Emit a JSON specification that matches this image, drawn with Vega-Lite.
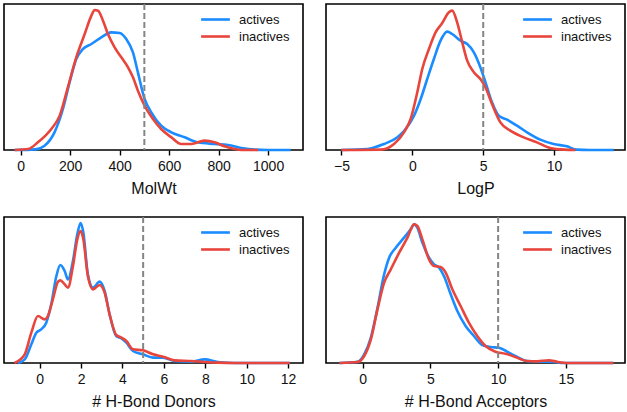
{
  "$schema": "https://vega.github.io/schema/vega-lite/v6.json",
  "padding": {"left": 3, "top": 2, "right": 1, "bottom": 0},
  "background": "white",
  "datasets": {
    "kde": [
      {"panel": "MolWt", "group": "actives", "value": -24, "density": 0},
      {"panel": "MolWt", "group": "actives", "value": 60, "density": 2},
      {"panel": "MolWt", "group": "actives", "value": 97, "density": 13},
      {"panel": "MolWt", "group": "actives", "value": 137, "density": 53},
      {"panel": "MolWt", "group": "actives", "value": 171, "density": 123},
      {"panel": "MolWt", "group": "actives", "value": 198, "density": 203},
      {"panel": "MolWt", "group": "actives", "value": 225, "density": 273},
      {"panel": "MolWt", "group": "actives", "value": 252, "density": 303},
      {"panel": "MolWt", "group": "actives", "value": 286, "density": 318},
      {"panel": "MolWt", "group": "actives", "value": 326, "density": 338},
      {"panel": "MolWt", "group": "actives", "value": 366, "density": 353},
      {"panel": "MolWt", "group": "actives", "value": 400, "density": 351},
      {"panel": "MolWt", "group": "actives", "value": 427, "density": 333},
      {"panel": "MolWt", "group": "actives", "value": 454, "density": 293},
      {"panel": "MolWt", "group": "actives", "value": 474, "density": 233},
      {"panel": "MolWt", "group": "actives", "value": 501, "density": 153},
      {"panel": "MolWt", "group": "actives", "value": 528, "density": 113},
      {"panel": "MolWt", "group": "actives", "value": 568, "density": 73},
      {"panel": "MolWt", "group": "actives", "value": 609, "density": 53},
      {"panel": "MolWt", "group": "actives", "value": 663, "density": 38},
      {"panel": "MolWt", "group": "actives", "value": 716, "density": 23},
      {"panel": "MolWt", "group": "actives", "value": 784, "density": 18},
      {"panel": "MolWt", "group": "actives", "value": 838, "density": 15},
      {"panel": "MolWt", "group": "actives", "value": 892, "density": 6},
      {"panel": "MolWt", "group": "actives", "value": 945, "density": 1},
      {"panel": "MolWt", "group": "actives", "value": 1000, "density": 0},
      {"panel": "MolWt", "group": "actives", "value": 1091, "density": 0},
      {"panel": "MolWt", "group": "inactives", "value": -24, "density": 0},
      {"panel": "MolWt", "group": "inactives", "value": 30, "density": 3},
      {"panel": "MolWt", "group": "inactives", "value": 70, "density": 23},
      {"panel": "MolWt", "group": "inactives", "value": 124, "density": 63},
      {"panel": "MolWt", "group": "inactives", "value": 158, "density": 103},
      {"panel": "MolWt", "group": "inactives", "value": 191, "density": 188},
      {"panel": "MolWt", "group": "inactives", "value": 225, "density": 278},
      {"panel": "MolWt", "group": "inactives", "value": 259, "density": 348},
      {"panel": "MolWt", "group": "inactives", "value": 286, "density": 403},
      {"panel": "MolWt", "group": "inactives", "value": 299, "density": 420},
      {"panel": "MolWt", "group": "inactives", "value": 313, "density": 418},
      {"panel": "MolWt", "group": "inactives", "value": 333, "density": 388},
      {"panel": "MolWt", "group": "inactives", "value": 353, "density": 348},
      {"panel": "MolWt", "group": "inactives", "value": 380, "density": 308},
      {"panel": "MolWt", "group": "inactives", "value": 407, "density": 278},
      {"panel": "MolWt", "group": "inactives", "value": 434, "density": 248},
      {"panel": "MolWt", "group": "inactives", "value": 454, "density": 218},
      {"panel": "MolWt", "group": "inactives", "value": 474, "density": 178},
      {"panel": "MolWt", "group": "inactives", "value": 501, "density": 133},
      {"panel": "MolWt", "group": "inactives", "value": 535, "density": 93},
      {"panel": "MolWt", "group": "inactives", "value": 568, "density": 63},
      {"panel": "MolWt", "group": "inactives", "value": 609, "density": 38},
      {"panel": "MolWt", "group": "inactives", "value": 649, "density": 18},
      {"panel": "MolWt", "group": "inactives", "value": 690, "density": 18},
      {"panel": "MolWt", "group": "inactives", "value": 743, "density": 28},
      {"panel": "MolWt", "group": "inactives", "value": 784, "density": 23},
      {"panel": "MolWt", "group": "inactives", "value": 824, "density": 11},
      {"panel": "MolWt", "group": "inactives", "value": 865, "density": 3},
      {"panel": "MolWt", "group": "inactives", "value": 892, "density": 0},
      {"panel": "MolWt", "group": "inactives", "value": 960, "density": 0},

      {"panel": "LogP", "group": "actives", "value": -5.0, "density": 0},
      {"panel": "LogP", "group": "actives", "value": -3.16, "density": 3},
      {"panel": "LogP", "group": "actives", "value": -2.0, "density": 18},
      {"panel": "LogP", "group": "actives", "value": -1.05, "density": 38},
      {"panel": "LogP", "group": "actives", "value": -0.47, "density": 63},
      {"panel": "LogP", "group": "actives", "value": 0.12, "density": 103},
      {"panel": "LogP", "group": "actives", "value": 0.59, "density": 153},
      {"panel": "LogP", "group": "actives", "value": 1.05, "density": 213},
      {"panel": "LogP", "group": "actives", "value": 1.52, "density": 273},
      {"panel": "LogP", "group": "actives", "value": 1.99, "density": 328},
      {"panel": "LogP", "group": "actives", "value": 2.46, "density": 355},
      {"panel": "LogP", "group": "actives", "value": 2.81, "density": 348},
      {"panel": "LogP", "group": "actives", "value": 3.4, "density": 328},
      {"panel": "LogP", "group": "actives", "value": 3.87, "density": 318},
      {"panel": "LogP", "group": "actives", "value": 4.34, "density": 293},
      {"panel": "LogP", "group": "actives", "value": 4.8, "density": 248},
      {"panel": "LogP", "group": "actives", "value": 5.16, "density": 203},
      {"panel": "LogP", "group": "actives", "value": 5.62, "density": 143},
      {"panel": "LogP", "group": "actives", "value": 6.09, "density": 103},
      {"panel": "LogP", "group": "actives", "value": 6.68, "density": 91},
      {"panel": "LogP", "group": "actives", "value": 7.38, "density": 73},
      {"panel": "LogP", "group": "actives", "value": 8.09, "density": 53},
      {"panel": "LogP", "group": "actives", "value": 9.02, "density": 31},
      {"panel": "LogP", "group": "actives", "value": 9.96, "density": 18},
      {"panel": "LogP", "group": "actives", "value": 10.9, "density": 11},
      {"panel": "LogP", "group": "actives", "value": 11.6, "density": 1},
      {"panel": "LogP", "group": "actives", "value": 12.5, "density": 0},
      {"panel": "LogP", "group": "actives", "value": 14.2, "density": 0},
      {"panel": "LogP", "group": "inactives", "value": -5.0, "density": 0},
      {"panel": "LogP", "group": "inactives", "value": -2.23, "density": 1},
      {"panel": "LogP", "group": "inactives", "value": -1.29, "density": 18},
      {"panel": "LogP", "group": "inactives", "value": -0.59, "density": 53},
      {"panel": "LogP", "group": "inactives", "value": -0.12, "density": 93},
      {"panel": "LogP", "group": "inactives", "value": 0.35, "density": 173},
      {"panel": "LogP", "group": "inactives", "value": 0.7, "density": 243},
      {"panel": "LogP", "group": "inactives", "value": 1.17, "density": 303},
      {"panel": "LogP", "group": "inactives", "value": 1.64, "density": 353},
      {"panel": "LogP", "group": "inactives", "value": 2.11, "density": 381},
      {"panel": "LogP", "group": "inactives", "value": 2.58, "density": 413},
      {"panel": "LogP", "group": "inactives", "value": 2.81, "density": 418},
      {"panel": "LogP", "group": "inactives", "value": 3.16, "density": 383},
      {"panel": "LogP", "group": "inactives", "value": 3.52, "density": 323},
      {"panel": "LogP", "group": "inactives", "value": 3.87, "density": 268},
      {"panel": "LogP", "group": "inactives", "value": 4.34, "density": 233},
      {"panel": "LogP", "group": "inactives", "value": 4.8, "density": 213},
      {"panel": "LogP", "group": "inactives", "value": 5.16, "density": 188},
      {"panel": "LogP", "group": "inactives", "value": 5.62, "density": 138},
      {"panel": "LogP", "group": "inactives", "value": 6.21, "density": 83},
      {"panel": "LogP", "group": "inactives", "value": 6.91, "density": 58},
      {"panel": "LogP", "group": "inactives", "value": 7.85, "density": 38},
      {"panel": "LogP", "group": "inactives", "value": 8.79, "density": 23},
      {"panel": "LogP", "group": "inactives", "value": 9.73, "density": 6},
      {"panel": "LogP", "group": "inactives", "value": 10.7, "density": 1},
      {"panel": "LogP", "group": "inactives", "value": 11.5, "density": 0},

      {"panel": "Donors", "group": "actives", "value": -1.05, "density": 0},
      {"panel": "Donors", "group": "actives", "value": -0.72, "density": 11},
      {"panel": "Donors", "group": "actives", "value": -0.4, "density": 56},
      {"panel": "Donors", "group": "actives", "value": -0.16, "density": 91},
      {"panel": "Donors", "group": "actives", "value": 0.08, "density": 101},
      {"panel": "Donors", "group": "actives", "value": 0.32, "density": 121},
      {"panel": "Donors", "group": "actives", "value": 0.56, "density": 176},
      {"panel": "Donors", "group": "actives", "value": 0.81, "density": 261},
      {"panel": "Donors", "group": "actives", "value": 1.0, "density": 294},
      {"panel": "Donors", "group": "actives", "value": 1.21, "density": 276},
      {"panel": "Donors", "group": "actives", "value": 1.37, "density": 251},
      {"panel": "Donors", "group": "actives", "value": 1.61, "density": 306},
      {"panel": "Donors", "group": "actives", "value": 1.82, "density": 386},
      {"panel": "Donors", "group": "actives", "value": 1.98, "density": 420},
      {"panel": "Donors", "group": "actives", "value": 2.11, "density": 392},
      {"panel": "Donors", "group": "actives", "value": 2.33, "density": 266},
      {"panel": "Donors", "group": "actives", "value": 2.58, "density": 226},
      {"panel": "Donors", "group": "actives", "value": 2.9, "density": 244},
      {"panel": "Donors", "group": "actives", "value": 3.14, "density": 216},
      {"panel": "Donors", "group": "actives", "value": 3.38, "density": 146},
      {"panel": "Donors", "group": "actives", "value": 3.7, "density": 81},
      {"panel": "Donors", "group": "actives", "value": 3.95, "density": 74},
      {"panel": "Donors", "group": "actives", "value": 4.19, "density": 61},
      {"panel": "Donors", "group": "actives", "value": 4.51, "density": 36},
      {"panel": "Donors", "group": "actives", "value": 4.99, "density": 26},
      {"panel": "Donors", "group": "actives", "value": 5.48, "density": 16},
      {"panel": "Donors", "group": "actives", "value": 5.96, "density": 16},
      {"panel": "Donors", "group": "actives", "value": 6.52, "density": 6},
      {"panel": "Donors", "group": "actives", "value": 7.33, "density": 4},
      {"panel": "Donors", "group": "actives", "value": 7.97, "density": 11},
      {"panel": "Donors", "group": "actives", "value": 8.61, "density": 3},
      {"panel": "Donors", "group": "actives", "value": 9.42, "density": 0},
      {"panel": "Donors", "group": "actives", "value": 12.08, "density": 0},
      {"panel": "Donors", "group": "inactives", "value": -1.21, "density": 0},
      {"panel": "Donors", "group": "inactives", "value": -0.72, "density": 26},
      {"panel": "Donors", "group": "inactives", "value": -0.4, "density": 91},
      {"panel": "Donors", "group": "inactives", "value": -0.08, "density": 141},
      {"panel": "Donors", "group": "inactives", "value": 0.24, "density": 131},
      {"panel": "Donors", "group": "inactives", "value": 0.4, "density": 141},
      {"panel": "Donors", "group": "inactives", "value": 0.64, "density": 191},
      {"panel": "Donors", "group": "inactives", "value": 0.89, "density": 244},
      {"panel": "Donors", "group": "inactives", "value": 1.0, "density": 248},
      {"panel": "Donors", "group": "inactives", "value": 1.21, "density": 236},
      {"panel": "Donors", "group": "inactives", "value": 1.37, "density": 226},
      {"panel": "Donors", "group": "inactives", "value": 1.61, "density": 291},
      {"panel": "Donors", "group": "inactives", "value": 1.82, "density": 371},
      {"panel": "Donors", "group": "inactives", "value": 1.98, "density": 396},
      {"panel": "Donors", "group": "inactives", "value": 2.11, "density": 372},
      {"panel": "Donors", "group": "inactives", "value": 2.33, "density": 261},
      {"panel": "Donors", "group": "inactives", "value": 2.58, "density": 221},
      {"panel": "Donors", "group": "inactives", "value": 2.9, "density": 234},
      {"panel": "Donors", "group": "inactives", "value": 3.14, "density": 211},
      {"panel": "Donors", "group": "inactives", "value": 3.38, "density": 146},
      {"panel": "Donors", "group": "inactives", "value": 3.7, "density": 84},
      {"panel": "Donors", "group": "inactives", "value": 3.95, "density": 76},
      {"panel": "Donors", "group": "inactives", "value": 4.19, "density": 66},
      {"panel": "Donors", "group": "inactives", "value": 4.51, "density": 41},
      {"panel": "Donors", "group": "inactives", "value": 4.99, "density": 38},
      {"panel": "Donors", "group": "inactives", "value": 5.48, "density": 26},
      {"panel": "Donors", "group": "inactives", "value": 5.96, "density": 19},
      {"panel": "Donors", "group": "inactives", "value": 6.52, "density": 8},
      {"panel": "Donors", "group": "inactives", "value": 7.33, "density": 6},
      {"panel": "Donors", "group": "inactives", "value": 7.97, "density": 3},
      {"panel": "Donors", "group": "inactives", "value": 8.61, "density": 1},
      {"panel": "Donors", "group": "inactives", "value": 9.4, "density": 0},
      {"panel": "Donors", "group": "inactives", "value": 12.08, "density": 0},

      {"panel": "Acceptors", "group": "actives", "value": -1.7, "density": 0},
      {"panel": "Acceptors", "group": "actives", "value": -0.37, "density": 4},
      {"panel": "Acceptors", "group": "actives", "value": 0.12, "density": 26},
      {"panel": "Acceptors", "group": "actives", "value": 0.61, "density": 76},
      {"panel": "Acceptors", "group": "actives", "value": 1.1, "density": 166},
      {"panel": "Acceptors", "group": "actives", "value": 1.59, "density": 266},
      {"panel": "Acceptors", "group": "actives", "value": 1.96, "density": 316},
      {"panel": "Acceptors", "group": "actives", "value": 2.45, "density": 346},
      {"panel": "Acceptors", "group": "actives", "value": 3.06, "density": 376},
      {"panel": "Acceptors", "group": "actives", "value": 3.55, "density": 401},
      {"panel": "Acceptors", "group": "actives", "value": 3.8, "density": 416},
      {"panel": "Acceptors", "group": "actives", "value": 4.04, "density": 406},
      {"panel": "Acceptors", "group": "actives", "value": 4.41, "density": 361},
      {"panel": "Acceptors", "group": "actives", "value": 4.9, "density": 316},
      {"panel": "Acceptors", "group": "actives", "value": 5.27, "density": 296},
      {"panel": "Acceptors", "group": "actives", "value": 5.64, "density": 286},
      {"panel": "Acceptors", "group": "actives", "value": 6.0, "density": 261},
      {"panel": "Acceptors", "group": "actives", "value": 6.5, "density": 206},
      {"panel": "Acceptors", "group": "actives", "value": 6.99, "density": 156},
      {"panel": "Acceptors", "group": "actives", "value": 7.6, "density": 111},
      {"panel": "Acceptors", "group": "actives", "value": 8.21, "density": 81},
      {"panel": "Acceptors", "group": "actives", "value": 8.82, "density": 54},
      {"panel": "Acceptors", "group": "actives", "value": 9.44, "density": 48},
      {"panel": "Acceptors", "group": "actives", "value": 10.05, "density": 46},
      {"panel": "Acceptors", "group": "actives", "value": 10.66, "density": 34},
      {"panel": "Acceptors", "group": "actives", "value": 11.27, "density": 21},
      {"panel": "Acceptors", "group": "actives", "value": 12.13, "density": 6},
      {"panel": "Acceptors", "group": "actives", "value": 13.1, "density": 4},
      {"panel": "Acceptors", "group": "actives", "value": 14.1, "density": 3},
      {"panel": "Acceptors", "group": "actives", "value": 14.8, "density": 0},
      {"panel": "Acceptors", "group": "actives", "value": 18.5, "density": 0},
      {"panel": "Acceptors", "group": "inactives", "value": -1.7, "density": 0},
      {"panel": "Acceptors", "group": "inactives", "value": -0.37, "density": 3},
      {"panel": "Acceptors", "group": "inactives", "value": 0.12, "density": 21},
      {"panel": "Acceptors", "group": "inactives", "value": 0.61, "density": 71},
      {"panel": "Acceptors", "group": "inactives", "value": 1.1, "density": 161},
      {"panel": "Acceptors", "group": "inactives", "value": 1.59, "density": 241},
      {"panel": "Acceptors", "group": "inactives", "value": 2.08, "density": 281},
      {"panel": "Acceptors", "group": "inactives", "value": 2.7, "density": 331},
      {"panel": "Acceptors", "group": "inactives", "value": 3.31, "density": 376},
      {"panel": "Acceptors", "group": "inactives", "value": 3.8, "density": 416},
      {"panel": "Acceptors", "group": "inactives", "value": 4.04, "density": 411},
      {"panel": "Acceptors", "group": "inactives", "value": 4.41, "density": 371},
      {"panel": "Acceptors", "group": "inactives", "value": 4.9, "density": 311},
      {"panel": "Acceptors", "group": "inactives", "value": 5.27, "density": 291},
      {"panel": "Acceptors", "group": "inactives", "value": 5.76, "density": 288},
      {"panel": "Acceptors", "group": "inactives", "value": 6.13, "density": 271},
      {"panel": "Acceptors", "group": "inactives", "value": 6.62, "density": 221},
      {"panel": "Acceptors", "group": "inactives", "value": 7.23, "density": 171},
      {"panel": "Acceptors", "group": "inactives", "value": 7.84, "density": 121},
      {"panel": "Acceptors", "group": "inactives", "value": 8.46, "density": 81},
      {"panel": "Acceptors", "group": "inactives", "value": 9.07, "density": 51},
      {"panel": "Acceptors", "group": "inactives", "value": 9.8, "density": 34},
      {"panel": "Acceptors", "group": "inactives", "value": 10.54, "density": 28},
      {"panel": "Acceptors", "group": "inactives", "value": 11.27, "density": 18},
      {"panel": "Acceptors", "group": "inactives", "value": 12.13, "density": 6},
      {"panel": "Acceptors", "group": "inactives", "value": 12.87, "density": 5},
      {"panel": "Acceptors", "group": "inactives", "value": 13.73, "density": 8},
      {"panel": "Acceptors", "group": "inactives", "value": 14.34, "density": 4},
      {"panel": "Acceptors", "group": "inactives", "value": 15.0, "density": 0},
      {"panel": "Acceptors", "group": "inactives", "value": 18.5, "density": 0}
    ],
    "thr": [
      {"panel": "MolWt", "value": 500},
      {"panel": "LogP", "value": 5},
      {"panel": "Donors", "value": 5},
      {"panel": "Acceptors", "value": 10}
    ]
  },
  "columns": 2,
  "spacing": {"row": 67, "column": 23},
  "bounds": "flush",
  "resolve": {
    "scale": {"x": "independent", "y": "independent", "color": "independent"},
    "legend": {"color": "independent"}
  },
  "concat": [
    {
      "width": 299, "height": 146,
      "layer": [
        {
          "data": {"name": "kde"},
          "transform": [{"filter": "datum.panel === 'MolWt'"}],
          "mark": {"type": "line", "interpolate": "monotone", "strokeWidth": 2.6},
          "encoding": {
            "x": {"field": "value", "type": "quantitative", "scale": {"domain": [-67, 1141], "nice": false, "zero": false},
                  "axis": {"values": [0, 200, 400, 600, 800, 1000], "format": "d", "title": "MolWt"}},
            "y": {"field": "density", "type": "quantitative", "scale": {"domain": [0, 438], "nice": false}, "axis": null},
            "color": {"field": "group", "type": "nominal", "scale": {"domain": ["actives", "inactives"], "range": ["#1a8cff", "#e8453c"]}, "legend": {"title": null}}
          }
        },
        {
          "data": {"name": "thr"},
          "transform": [{"filter": "datum.panel === 'MolWt'"}],
          "mark": {"type": "rule", "strokeDash": [6, 3], "color": "#858585", "strokeWidth": 2},
          "encoding": {"x": {"field": "value", "type": "quantitative"}}
        }
      ]
    },
    {
      "width": 299, "height": 146,
      "layer": [
        {
          "data": {"name": "kde"},
          "transform": [{"filter": "datum.panel === 'LogP'"}],
          "mark": {"type": "line", "interpolate": "monotone", "strokeWidth": 2.6},
          "encoding": {
            "x": {"field": "value", "type": "quantitative", "scale": {"domain": [-6.09, 15.0], "nice": false, "zero": false},
                  "axis": {"values": [-5, 0, 5, 10], "title": "LogP"}},
            "y": {"field": "density", "type": "quantitative", "scale": {"domain": [0, 438], "nice": false}, "axis": null},
            "color": {"field": "group", "type": "nominal", "scale": {"domain": ["actives", "inactives"], "range": ["#1a8cff", "#e8453c"]}, "legend": {"title": null}}
          }
        },
        {
          "data": {"name": "thr"},
          "transform": [{"filter": "datum.panel === 'LogP'"}],
          "mark": {"type": "rule", "strokeDash": [6, 3], "color": "#858585", "strokeWidth": 2},
          "encoding": {"x": {"field": "value", "type": "quantitative"}}
        }
      ]
    },
    {
      "width": 299, "height": 146,
      "layer": [
        {
          "data": {"name": "kde"},
          "transform": [{"filter": "datum.panel === 'Donors'"}],
          "mark": {"type": "line", "interpolate": "monotone", "strokeWidth": 2.6},
          "encoding": {
            "x": {"field": "value", "type": "quantitative", "scale": {"domain": [-1.72, 12.72], "nice": false, "zero": false},
                  "axis": {"values": [0, 2, 4, 6, 8, 10, 12], "title": "# H-Bond Donors"}},
            "y": {"field": "density", "type": "quantitative", "scale": {"domain": [0, 438], "nice": false}, "axis": null},
            "color": {"field": "group", "type": "nominal", "scale": {"domain": ["actives", "inactives"], "range": ["#1a8cff", "#e8453c"]}, "legend": {"title": null}}
          }
        },
        {
          "data": {"name": "thr"},
          "transform": [{"filter": "datum.panel === 'Donors'"}],
          "mark": {"type": "rule", "strokeDash": [6, 3], "color": "#858585", "strokeWidth": 2},
          "encoding": {"x": {"field": "value", "type": "quantitative"}}
        }
      ]
    },
    {
      "width": 299, "height": 146,
      "layer": [
        {
          "data": {"name": "kde"},
          "transform": [{"filter": "datum.panel === 'Acceptors'"}],
          "mark": {"type": "line", "interpolate": "monotone", "strokeWidth": 2.6},
          "encoding": {
            "x": {"field": "value", "type": "quantitative", "scale": {"domain": [-2.7, 19.36], "nice": false, "zero": false},
                  "axis": {"values": [0, 5, 10, 15], "title": "# H-Bond Acceptors"}},
            "y": {"field": "density", "type": "quantitative", "scale": {"domain": [0, 438], "nice": false}, "axis": null},
            "color": {"field": "group", "type": "nominal", "scale": {"domain": ["actives", "inactives"], "range": ["#1a8cff", "#e8453c"]}, "legend": {"title": null}}
          }
        },
        {
          "data": {"name": "thr"},
          "transform": [{"filter": "datum.panel === 'Acceptors'"}],
          "mark": {"type": "rule", "strokeDash": [6, 3], "color": "#858585", "strokeWidth": 2},
          "encoding": {"x": {"field": "value", "type": "quantitative"}}
        }
      ]
    }
  ],
  "config": {
    "font": "Liberation Sans",
    "view": {"stroke": "black", "strokeWidth": 1.6},
    "axis": {
      "grid": false,
      "domain": false,
      "ticks": true,
      "tickColor": "black",
      "tickWidth": 1.4,
      "tickSize": 5,
      "labelFont": "Liberation Sans",
      "labelFontSize": 14,
      "labelColor": "#111",
      "labelPadding": 4,
      "labelFlush": false,
      "labelOverlap": false,
      "titleFont": "Liberation Sans",
      "titleFontSize": 16,
      "titleFontWeight": "normal",
      "titleColor": "#111",
      "titlePadding": 7
    },
    "legend": {
      "orient": "none",
      "legendX": 202,
      "legendY": 6,
      "padding": 0,
      "labelFont": "Liberation Sans",
      "labelFontSize": 13,
      "labelColor": "#111",
      "symbolType": "M-1.8,0H1.8",
      "symbolSize": 256,
      "symbolStrokeWidth": 2.6,
      "labelOffset": 14,
      "rowPadding": 0
    }
  }
}
